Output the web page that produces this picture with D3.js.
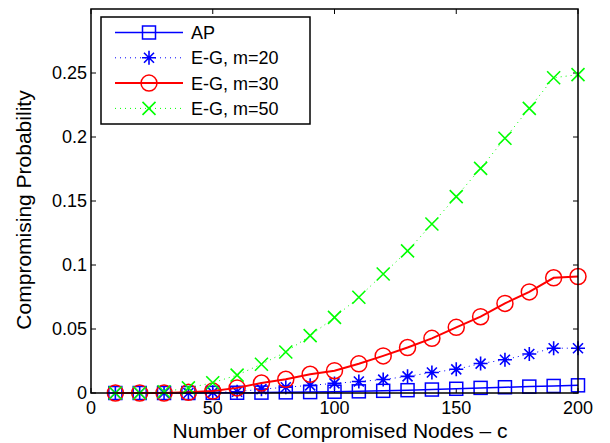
<!DOCTYPE html>
<html>
<head>
<meta charset="utf-8">
<script src="https://cdn.jsdelivr.net/npm/d3@7"></script>
<style>
  body { margin: 0; background: #fff; }
  text { font-family: "Liberation Sans", Arial, sans-serif; fill: #000; }
</style>
</head>
<body>
<div id="chart"></div>
<script>
// данные
const nodes = [10, 20, 30, 40, 50, 60, 70, 80, 90, 100, 110, 120, 130, 140, 150, 160, 170, 180, 190, 200];
const apValues = [0, 0, 0, 0, 0.0001, 0.0002, 0.0003, 0.0005, 0.0007, 0.001, 0.0013, 0.0017, 0.0022, 0.0027, 0.0033, 0.004, 0.0045, 0.005, 0.0055, 0.006];
const eg20Values = [0, 0, 0, 0, 0.0005, 0.001, 0.003, 0.0045, 0.006, 0.0075, 0.009, 0.0105, 0.013, 0.016, 0.0185, 0.023, 0.026, 0.0305, 0.035, 0.035];
const eg30Values = [0, 0, 0, 0.0005, 0.0015, 0.004, 0.0078, 0.0107, 0.0146, 0.0174, 0.0228, 0.029, 0.0355, 0.0427, 0.0513, 0.0596, 0.07, 0.079, 0.09, 0.091];
const eg50Values = [0, 0, 0.001, 0.004, 0.008, 0.014, 0.0225, 0.032, 0.0448, 0.0591, 0.0748, 0.093, 0.111, 0.132, 0.1534, 0.1755, 0.199, 0.2224, 0.2463, 0.2487];
const xTicks = [0, 50, 100, 150, 200];
const yTicks = [0, 0.05, 0.1, 0.15, 0.2, 0.25];
const yTickLabels = ["0", "0.05", "0.1", "0.15", "0.2", "0.25"];

const series = [
    { name: "AP", values: apValues, color: "#0000ff", dash: null, marker: "square", lw: 1.5 },
    { name: "E-G, m=20", values: eg20Values, color: "#0000ff", dash: "1,4", marker: "star", lw: 1 },
    { name: "E-G, m=30", values: eg30Values, color: "#ff0000", dash: null, marker: "circle", lw: 2 },
    { name: "E-G, m=50", values: eg50Values, color: "#00ff00", dash: "1,4", marker: "cross", lw: 1 }
];

const width = 610, height = 443;
const margin = { left: 91, right: 32, top: 9, bottom: 50 };

const svg = d3.select("#chart").append("svg")
    .attr("width", width)
    .attr("height", height);

const x = d3.scaleLinear().domain([0, 200]).range([margin.left, width - margin.right]);
const y = d3.scaleLinear().domain([0, 0.3]).range([height - margin.bottom, margin.top]);

const x0 = x.range()[0], x1 = x.range()[1], y0 = y.range()[0], y1 = y.range()[1];
const tickLen = 5;

// оси в стиле MATLAB: засечки внутрь, рамка со всех сторон
const axes = svg.append("g");
xTicks.forEach(t => {
    axes.append("line").attr("x1", x(t)).attr("x2", x(t)).attr("y1", y0).attr("y2", y0 - tickLen)
        .attr("stroke", "#000").attr("stroke-width", 1);
    axes.append("line").attr("x1", x(t)).attr("x2", x(t)).attr("y1", y1).attr("y2", y1 + tickLen)
        .attr("stroke", "#000").attr("stroke-width", 1);
    axes.append("text").attr("x", x(t)).attr("y", y0 + 21)
        .attr("text-anchor", "middle").style("font-size", "18px").text(t);
});
yTicks.forEach((t, i) => {
    axes.append("line").attr("x1", x0).attr("x2", x0 + tickLen).attr("y1", y(t)).attr("y2", y(t))
        .attr("stroke", "#000").attr("stroke-width", 1);
    axes.append("line").attr("x1", x1).attr("x2", x1 - tickLen).attr("y1", y(t)).attr("y2", y(t))
        .attr("stroke", "#000").attr("stroke-width", 1);
    axes.append("text").attr("x", x0 - 4).attr("y", y(t)).attr("dy", "0.36em")
        .attr("text-anchor", "end").style("font-size", "18px").text(yTickLabels[i]);
});

// линии и маркеры
const line = d3.line().x((d, i) => x(nodes[i])).y(d => y(d));

function drawMarker(g, type, cx, cy, color) {
    if (type === "square") {
        g.append("rect").attr("x", cx - 6.5).attr("y", cy - 6.5).attr("width", 13).attr("height", 13)
            .attr("fill", "none").attr("stroke", color).attr("stroke-width", 1.5);
    } else if (type === "circle") {
        g.append("circle").attr("cx", cx).attr("cy", cy).attr("r", 8)
            .attr("fill", "none").attr("stroke", color).attr("stroke-width", 1.5);
    } else if (type === "star") {
        const a = 7, b = 5;
        g.append("path")
            .attr("d", `M${cx - a},${cy}L${cx + a},${cy}M${cx},${cy - a}L${cx},${cy + a}` +
                `M${cx - b},${cy - b}L${cx + b},${cy + b}M${cx - b},${cy + b}L${cx + b},${cy - b}`)
            .attr("stroke", color).attr("stroke-width", 1.6).attr("fill", "none");
    } else if (type === "cross") {
        const c = 6.5;
        g.append("path")
            .attr("d", `M${cx - c},${cy - c}L${cx + c},${cy + c}M${cx - c},${cy + c}L${cx + c},${cy - c}`)
            .attr("stroke", color).attr("stroke-width", 1.6).attr("fill", "none");
    }
}

const plot = svg.append("g");
series.forEach(s => {
    const g = plot.append("g");
    g.append("path")
        .attr("d", line(s.values))
        .attr("fill", "none")
        .attr("stroke", s.color)
        .attr("stroke-width", s.lw)
        .attr("stroke-dasharray", s.dash);
    s.values.forEach((v, i) => drawMarker(g, s.marker, x(nodes[i]), y(v), s.color));
});

// рамка поверх
svg.append("rect")
    .attr("x", x0).attr("y", y1).attr("width", x1 - x0).attr("height", y0 - y1)
    .attr("fill", "none").attr("stroke", "#000").attr("stroke-width", 1.5);

// легенда
const legend = svg.append("g");
legend.append("rect")
    .attr("x", 101).attr("y", 17).attr("width", 209).attr("height", 107)
    .attr("fill", "#fff").attr("stroke", "#000").attr("stroke-width", 1.5);
series.forEach((s, i) => {
    const ly = 32.5 + i * 25.3;
    legend.append("line").attr("x1", 115).attr("x2", 183).attr("y1", ly).attr("y2", ly)
        .attr("stroke", s.color).attr("stroke-width", s.lw).attr("stroke-dasharray", s.dash);
    drawMarker(legend, s.marker, 149, ly, s.color);
    legend.append("text").attr("x", 191).attr("y", ly).attr("dy", "0.36em")
        .style("font-size", "18px").text(s.name);
});

// подписи осей
svg.append("text")
    .attr("x", 340).attr("y", 438)
    .attr("text-anchor", "middle").style("font-size", "21px")
    .text("Number of Compromised Nodes \u2013 c");
svg.append("text")
    .attr("transform", "translate(31,210) rotate(-90)")
    .attr("text-anchor", "middle").style("font-size", "21px")
    .text("Compromising Probability");
</script>
</body>
</html>
